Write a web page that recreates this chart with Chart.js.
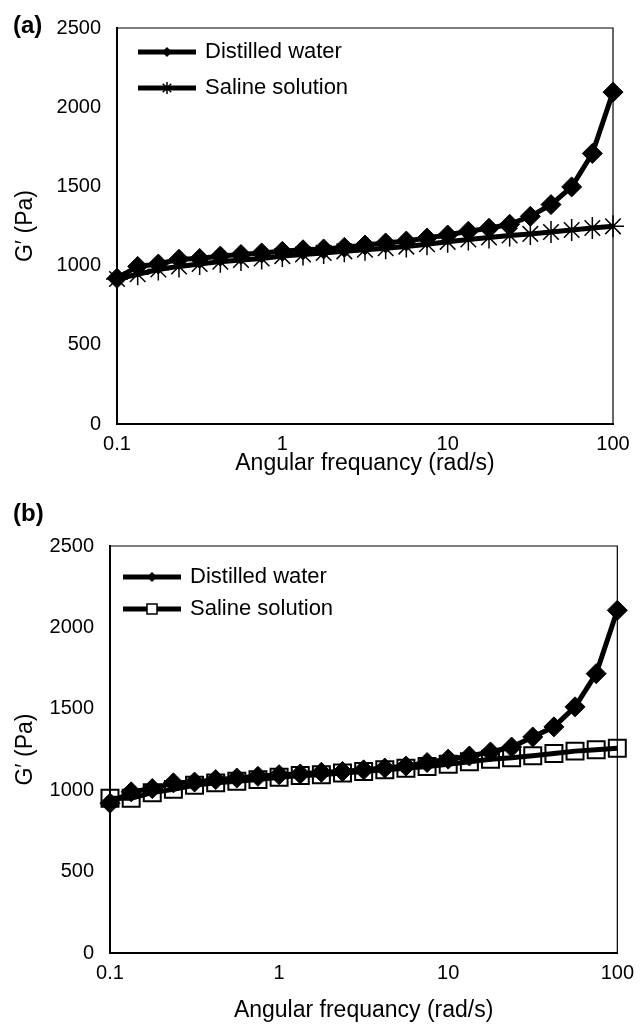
<!DOCTYPE html>
<html>
<head>
<meta charset="utf-8">
<script src="https://cdn.jsdelivr.net/npm/chart.js@4/dist/chart.umd.min.js"></script>
<style>
  body { margin: 0; background: #fff; width: 642px; height: 1027px; position: relative; overflow: hidden; }
  canvas { position: absolute; left: 0; }
  .tag { position: absolute; font-family: "Liberation Sans", Arial, sans-serif; font-weight: bold; font-size: 24px; color: #000; }
</style>
</head>
<body>
<canvas id="chartA" width="642" height="490" style="top:0"></canvas>
<canvas id="chartB" width="642" height="537" style="top:490px"></canvas>
<div class="tag" style="left:13px; top:11px">(a)</div>
<div class="tag" style="left:13px; top:499px">(b)</div>
<script>
// angular frequency (rad/s), 8 points per decade
const freq = [0.1, 0.1334, 0.1778, 0.2371, 0.3162, 0.4217, 0.5623, 0.7499,
  1, 1.334, 1.778, 2.371, 3.162, 4.217, 5.623, 7.499,
  10, 13.34, 17.78, 23.71, 31.62, 42.17, 56.23, 74.99, 100];

// G' (Pa) - panel (a)
const distilledA = [920, 995, 1010, 1040, 1045, 1060, 1070, 1080,
  1090, 1100, 1105, 1115, 1130, 1143, 1155, 1174,
  1193, 1217, 1236, 1261, 1311, 1385, 1497, 1708, 2095];
const salineA = [915, 945, 975, 995, 1010, 1025, 1035, 1045,
  1060, 1070, 1080, 1090, 1100, 1110, 1120, 1135,
  1150, 1165, 1178, 1190, 1200, 1212, 1225, 1237, 1248];

// G' (Pa) - panel (b)
const distilledB = [920, 990, 1010, 1045, 1050, 1065, 1075, 1085,
  1095, 1100, 1110, 1115, 1125, 1136, 1148, 1170,
  1191, 1210, 1235, 1265, 1327, 1389, 1512, 1716, 2105];
const salineB = [950, 950, 985, 1005, 1030, 1045, 1055, 1065,
  1080, 1090, 1095, 1105, 1115, 1125, 1135, 1145,
  1160, 1175, 1190, 1200, 1212, 1226, 1240, 1248, 1258];

const xTicks = [0.1, 1, 10, 100];
const xTickLabels = ["0.1", "1", "10", "100"];
const seriesNames = ["Distilled water", "Saline solution"];
const xTitle = "Angular frequancy (rad/s)";
const yTitle = "G′ (Pa)";

const FONT = "'Liberation Sans', Arial, sans-serif";

function toPoints(ys) {
  return freq.map((f, i) => ({ x: f, y: ys[i] }));
}

// draw a small marker for the legend
function drawMarker(ctx, style, x, y, r) {
  ctx.save();
  ctx.strokeStyle = "#000";
  ctx.fillStyle = "#000";
  ctx.lineWidth = 1.5;
  ctx.beginPath();
  if (style === "rectRot") {
    ctx.moveTo(x - r, y); ctx.lineTo(x, y - r); ctx.lineTo(x + r, y); ctx.lineTo(x, y + r);
    ctx.closePath(); ctx.fill();
  } else if (style === "star") {
    const d = r * Math.SQRT1_2;
    ctx.moveTo(x - d, y - d); ctx.lineTo(x + d, y + d);
    ctx.moveTo(x - d, y + d); ctx.lineTo(x + d, y - d);
    ctx.moveTo(x, y - r); ctx.lineTo(x, y + r);
    ctx.stroke();
  } else {
    ctx.fillStyle = "#fff";
    ctx.rect(x - r, y - r, 2 * r, 2 * r);
    ctx.fill(); ctx.stroke();
  }
  ctx.restore();
}

const framePlugin = {
  id: "frame",
  beforeDatasetsDraw(chart) {
    const { ctx, chartArea: a } = chart;
    ctx.save();
    ctx.strokeStyle = "#000";
    ctx.lineWidth = 1.2;
    ctx.beginPath();
    ctx.moveTo(a.left, a.top); ctx.lineTo(a.right, a.top); ctx.lineTo(a.right, a.bottom);
    ctx.stroke();
    ctx.restore();
  },
  afterDraw(chart, args, opts) {
    const { ctx, chartArea: a } = chart;
    chart.data.datasets.forEach((ds, i) => {
      const y = a.top + opts.top + i * opts.gap;
      const x0 = a.left + opts.left;
      ctx.save();
      ctx.strokeStyle = "#000";
      ctx.lineWidth = 5;
      ctx.beginPath();
      ctx.moveTo(x0, y); ctx.lineTo(x0 + opts.len, y);
      ctx.stroke();
      ctx.restore();
      drawMarker(ctx, ds.pointStyle, x0 + opts.len / 2, y, opts.marker[i]);
      ctx.save();
      ctx.fillStyle = "#000";
      ctx.font = "22px " + FONT;
      ctx.textBaseline = "middle";
      ctx.fillText(ds.label, x0 + opts.len + 9, y);
      ctx.restore();
    });
  }
};

function makeChart(id, distilled, saline, salineStyle, salineRadius, box) {
  new Chart(document.getElementById(id), {
    type: "line",
    data: {
      datasets: [
        {
          label: seriesNames[0],
          data: toPoints(distilled),
          borderColor: "#000",
          borderWidth: 5,
          pointStyle: "rectRot",
          pointRadius: 10,
          pointBackgroundColor: "#000",
          pointBorderColor: "#000",
          pointBorderWidth: 1,
          tension: 0,
          clip: false
        },
        {
          label: seriesNames[1],
          data: toPoints(saline),
          borderColor: "#000",
          borderWidth: 5,
          pointStyle: salineStyle,
          pointRadius: salineRadius,
          pointBackgroundColor: "rgba(0,0,0,0)",
          pointBorderColor: "#000",
          pointBorderWidth: salineStyle === "star" ? 1.5 : 2,
          tension: 0,
          clip: false
        }
      ]
    },
    options: {
      responsive: false,
      animation: false,
      devicePixelRatio: 1,
      layout: { padding: { left: 0, right: box.right, top: box.top, bottom: 0 } },
      plugins: {
        legend: { display: false },
        tooltip: { enabled: false },
        frame: box.legend
      },
      scales: {
        x: {
          type: "logarithmic",
          min: 0.1,
          max: 100,
          afterBuildTicks: s => { s.ticks = xTicks.map(v => ({ value: v })); },
          afterFit: s => { s.height = box.xHeight; },
          grid: { display: false, drawTicks: false },
          border: { display: true, color: "#000", width: 2 },
          ticks: {
            padding: 8,
            color: "#000",
            font: { family: FONT, size: 20 },
            maxRotation: 0,
            autoSkip: false,
            callback: v => xTickLabels[xTicks.indexOf(v)]
          },
          title: {
            display: true,
            text: xTitle,
            color: "#000",
            font: { family: FONT, size: 23 },
            padding: { top: 0, bottom: box.xTitlePad }
          }
        },
        y: {
          min: 0,
          max: 2500,
          afterFit: s => { s.width = box.yWidth; },
          grid: { display: false, drawTicks: false },
          border: { display: true, color: "#000", width: 2 },
          ticks: {
            stepSize: 500,
            padding: 16,
            color: "#000",
            font: { family: FONT, size: 20 },
            callback: v => String(v)
          },
          title: {
            display: true,
            text: yTitle,
            color: "#000",
            font: { family: FONT, size: 23 },
            padding: { top: 12, bottom: 0 }
          }
        }
      }
    },
    plugins: [framePlugin]
  });
}

makeChart("chartA", distilledA, salineA, "star", 11, {
  right: 29, top: 18, xHeight: 66, yWidth: 117, xTitlePad: 13,
  legend: { left: 21, top: 24, gap: 36, len: 58, marker: [5, 6] }
});
makeChart("chartB", distilledB, salineB, "rect", 12, {
  right: 24, top: 56, xHeight: 74, yWidth: 110, xTitlePad: 3,
  legend: { left: 13, top: 31, gap: 32, len: 58, marker: [5, 5] }
});
</script>
</body>
</html>
